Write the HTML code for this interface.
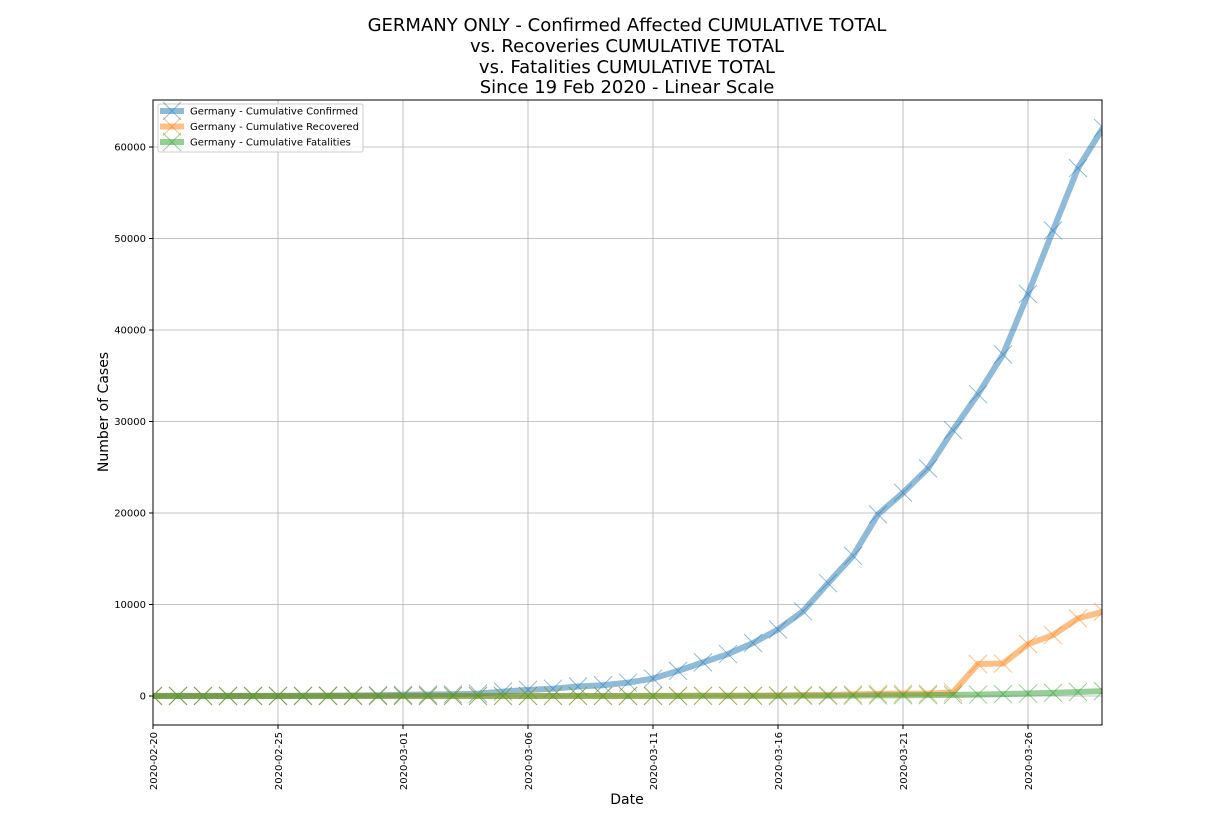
<!DOCTYPE html>
<html><head><meta charset="utf-8"><style>
body{margin:0;background:#fff;}
svg{display:block;font-family:"DejaVu Sans","Liberation Sans",sans-serif;}
</style></head><body>
<svg id="chart" width="1224" height="828" viewBox="0 0 1224 828" xmlns="http://www.w3.org/2000/svg">
<defs><clipPath id="pc"><rect x="153" y="100" width="949" height="625"/></clipPath></defs>
<g font-size="18" text-anchor="middle" fill="#000">
<text x="627" y="31">GERMANY ONLY - Confirmed Affected CUMULATIVE TOTAL</text>
<text x="627" y="52">vs. Recoveries CUMULATIVE TOTAL</text>
<text x="627" y="73">vs. Fatalities CUMULATIVE TOTAL</text>
<text x="627" y="93">Since 19 Feb 2020 - Linear Scale</text>
</g>
<g id="grid"></g>
<g id="series" clip-path="url(#pc)"></g>
<rect x="153" y="100" width="949" height="625" fill="none" stroke="#000" stroke-width="1"/>
<g id="ticks" font-size="10" fill="#000"></g>
<text x="627" y="804" font-size="14" text-anchor="middle">Date</text>
<text transform="translate(108,412) rotate(-90)" font-size="14" text-anchor="middle">Number of Cases</text>
<g>
<rect x="158" y="104" width="205" height="48" fill="#fff" fill-opacity="0.8" stroke="#ccc" rx="2"/>
<g id="legend-items"></g>
</g>
</svg>
<script>
const dayLabels=["2020-02-20","2020-02-25","2020-03-01","2020-03-06","2020-03-11","2020-03-16","2020-03-21","2020-03-26"];
const yTicks=[0,10000,20000,30000,40000,50000,60000];
const seriesNames=["Germany - Cumulative Confirmed","Germany - Cumulative Recovered","Germany - Cumulative Fatalities"];
const confirmed=[16,16,16,16,16,17,27,46,48,79,130,159,196,262,482,670,799,1040,1176,1457,1908,2745,3675,4585,5795,7272,9257,12327,15320,19848,22213,24873,29056,32986,37323,43938,50871,57695,62095];
const recovered=[14,14,14,14,14,14,14,16,16,16,16,16,16,16,16,17,18,18,18,18,25,25,46,46,46,67,105,113,180,233,266,266,400,3500,3547,5673,6658,8481,9211];
const fatalities=[0,0,0,0,0,0,0,0,0,0,0,0,0,0,0,0,0,0,2,2,3,3,7,9,11,17,24,28,44,67,84,94,123,157,206,267,342,433,533];
const colors=["#1f77b4","#ff7f0e","#2ca02c"];
const NS="http://www.w3.org/2000/svg";
const X=i=>153+i*25;
const Y=v=>696-v*549/60000;
function mk(t,a,p){const e=document.createElementNS(NS,t);for(const k in a)e.setAttribute(k,a[k]);p.appendChild(e);return e;}
const grid=document.getElementById('grid'),ticks=document.getElementById('ticks'),ser=document.getElementById('series');
dayLabels.forEach((d,i)=>{const x=X(i*5);
const g=mk('line',{x1:x,x2:x,y1:100,y2:725,stroke:'#b0b0b0','stroke-width':0.8},grid);


mk('line',{x1:x,x2:x,y1:725,y2:729,stroke:'#000'},ticks);
const t=mk('text',{transform:`translate(${x+4},${732}) rotate(-90)`,'text-anchor':'end'},ticks);t.textContent=d;

});
yTicks.forEach(v=>{const y=Y(v);
const g=mk('line',{x1:153,x2:1102,y1:y,y2:y,stroke:'#b0b0b0','stroke-width':0.8},grid);


mk('line',{x1:149,x2:153,y1:y,y2:y,stroke:'#000'},ticks);
const t=mk('text',{x:146,y:y+3.5,'text-anchor':'end'},ticks);t.textContent=v;

});
function cross(x,y,c,p){mk('path',{d:`M${x-9} ${y-9}L${x+9} ${y+9}M${x-9} ${y+9}L${x+9} ${y-9}`,stroke:c,'stroke-width':1,'stroke-opacity':0.5,fill:'none'},p);}
[confirmed,recovered,fatalities].forEach((arr,k)=>{
const g=mk('g',{},ser);


const pts=arr.map((v,i)=>X(i)+','+Y(v)).join(' ');
mk('polyline',{points:pts,fill:'none',stroke:colors[k],'stroke-width':6,'stroke-opacity':0.5,'stroke-linejoin':'round'},g);
arr.forEach((v,i)=>cross(X(i),Y(v),colors[k],g));});
const li=document.getElementById('legend-items');
seriesNames.forEach((n,k)=>{const y=111+k*15.5;
const g=mk('g',{},li);


mk('line',{x1:160,x2:184,y1:y,y2:y,stroke:colors[k],'stroke-width':6,'stroke-opacity':0.5},g);
cross(172,y,colors[k],g);
const t=mk('text',{x:190,y:y+3.5,'font-size':10},g);t.textContent=n;});
</script>
</body></html>
